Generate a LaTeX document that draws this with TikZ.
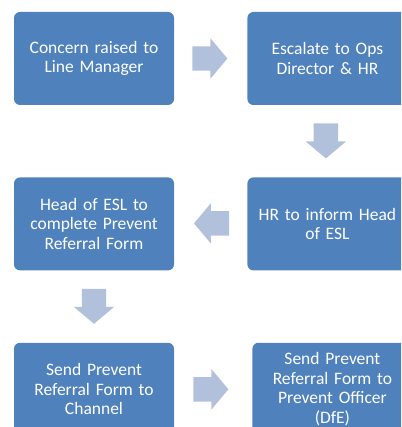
\documentclass[tikz,border=0pt]{standalone}
\usepackage{fontspec}
\setmainfont{Carlito}
\usetikzlibrary{positioning}
\usetikzlibrary{shapes.arrows}

\definecolor{stepblue}{HTML}{4F81BD}
\definecolor{arrowblue}{HTML}{B2C1DB}

\tikzset{
	stepbox/.style={fill=stepblue, rounded corners=6pt, minimum width=160pt, minimum height=93pt, text width=154pt, align=center, text=white, inner sep=0pt, font=\fontsize{17.5}{19.5}\selectfont},
	blockarrow/.style={single arrow, fill=arrowblue, minimum height=35pt, single arrow head extend=8pt, single arrow tip angle=100, anchor=tail, inner xsep=0pt, inner ysep=12pt},
	downarrow/.style={blockarrow, shape border rotate=270, inner xsep=12pt, inner ysep=0pt}
}

\begin{document}
\begin{tikzpicture}[x=1pt,y=1pt]
		\useasboundingbox (0,0) rectangle (401,-427);
		\clip (0,0) rectangle (401,-427);
		\node [stepbox] (B1) at (94,-58.5) {Concern raised to\\Line Manager};
		\node [stepbox, right=73pt of B1] (B2) {Escalate to Ops\\Director \& HR};
		\node [stepbox, below=72pt of B2] (B4) {HR to inform Head\\of ESL};
		\node [stepbox, left=73pt of B4] (B3) {Head of ESL to\\complete Prevent\\Referral Form};
		\node [stepbox, below=72pt of B3] (B5) {Send Prevent\\Referral Form to\\Channel};
		\node [stepbox, right=78pt of B5] (B6) {Send Prevent\\Referral Form to\\Prevent Officer\\(DfE)};
		\node [blockarrow] (A1) at ([xshift=18pt]B1.east) {};
		\node [downarrow] (A2) at ([xshift=-1.5pt, yshift=-18pt]B2.south) {};
		\node [blockarrow, shape border rotate=180] (A3) at ([xshift=-18pt, yshift=0.5pt]B4.west) {};
		\node [downarrow] (A4) at ([yshift=-18pt]B3.south) {};
		\node [blockarrow] (A5) at ([xshift=19pt]B5.east) {};
	\end{tikzpicture}
\end{document}
